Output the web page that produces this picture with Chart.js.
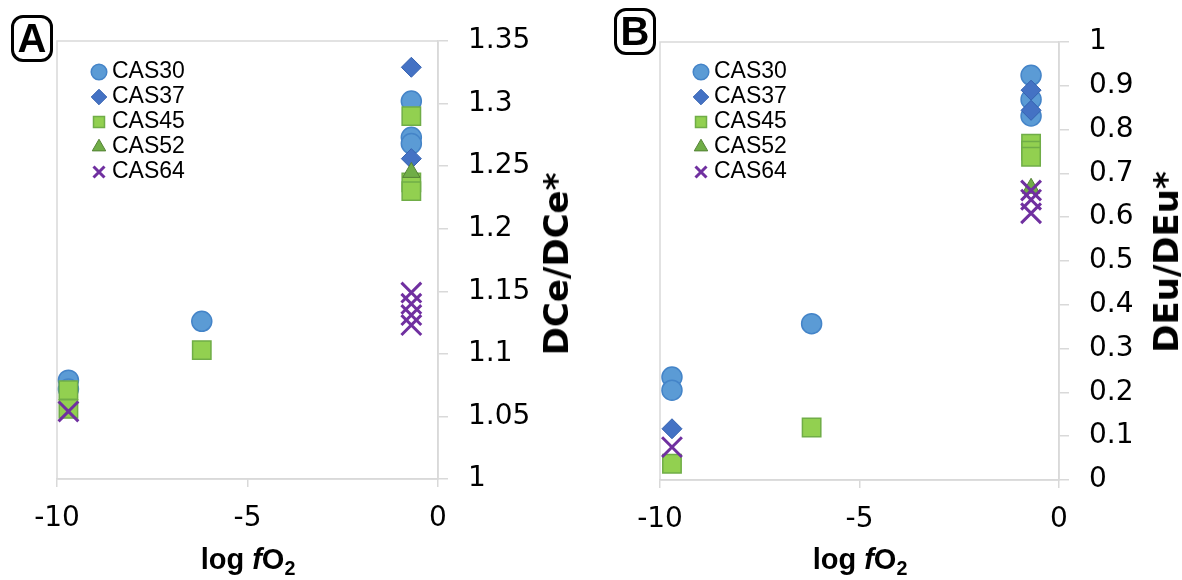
<!DOCTYPE html>
<html>
<head>
<meta charset="utf-8">
<script src="https://cdn.jsdelivr.net/npm/chart.js@4"></script>
<style>
  body { margin: 0; background: #fff; font-family: "Liberation Sans", Arial, sans-serif; }
  .wrap { position: absolute; top: 0; height: 580px; }
  .tag { position: absolute; box-sizing: border-box; border: 3px solid #000; border-radius: 12px;
         font-weight: bold; font-size: 40px; line-height: 41px; text-align: center; width: 42px; height: 47px; }
  .xt { position: absolute; top: 545px; transform: translateX(-50%); font-weight: bold; font-size: 29px;
        line-height: 28px; white-space: nowrap; }
  .xt sub { font-size: 0.68em; vertical-align: -0.3em; line-height: 0; }
  .yt { position: absolute; transform: translate(-50%, -50%) rotate(-90deg); font-family: "DejaVu Sans", sans-serif;
        font-weight: bold; font-size: 34px; line-height: 34px; white-space: nowrap; }
</style>
</head>
<body>
<div class="wrap" style="left:0;width:580px"><canvas id="chartA"></canvas></div>
<div class="wrap" style="left:590px;width:592px"><canvas id="chartB"></canvas></div>
<div class="tag" style="left:11px;top:15px">A</div>
<div class="tag" style="left:614px;top:8px">B</div>
<div class="xt" style="left:248px">log <i>f</i>O<sub>2</sub></div>
<div class="xt" style="left:860px">log <i>f</i>O<sub>2</sub></div>
<div class="yt" style="left:556px;top:264px">DCe/DCe*</div>
<div class="yt" style="left:1166px;top:262px">DEu/DEu*</div>
<script>
Chart.defaults.font.family = '"Liberation Sans", Arial, sans-serif';
Chart.defaults.color = '#000000';

const seriesNames = ['CAS30', 'CAS37', 'CAS45', 'CAS52', 'CAS64'];

// panel A : DCe/DCe* vs log fO2
const ceX30 = [-9.7, -9.7, -6.2, -0.7, -0.7, -0.7];
const ceY30 = [1.079, 1.072, 1.126, 1.302, 1.273, 1.268];
const ceX37 = [-0.7, -0.7];
const ceY37 = [1.329, 1.256];
const ceX45 = [-9.7, -9.7, -6.2, -0.7, -0.7, -0.7];
const ceY45 = [1.071, 1.056, 1.103, 1.290, 1.237, 1.230];
const ceX52 = [-0.7];
const ceY52 = [1.245];
const ceX64 = [-9.7, -0.7, -0.7, -0.7, -0.7];
const ceY64 = [1.054, 1.149, 1.140, 1.131, 1.123];

// panel B : DEu/DEu* vs log fO2
const euX30 = [-9.7, -9.7, -6.2, -0.7, -0.7, -0.7];
const euY30 = [0.235, 0.205, 0.357, 0.924, 0.869, 0.831];
const euX37 = [-9.7, -0.7, -0.7];
const euY37 = [0.117, 0.890, 0.844];
const euX45 = [-9.7, -6.2, -0.7, -0.7, -0.7];
const euY45 = [0.037, 0.120, 0.768, 0.752, 0.738];
const euX52 = [-0.7];
const euY52 = [0.666];
const euX64 = [-9.7, -0.7, -0.7, -0.7];
const euY64 = [0.075, 0.661, 0.640, 0.609];

const xTicks = [-10, -5, 0];

function pts(xs, ys) {
    return xs.map((x, i) => ({ x: x, y: ys[i] }));
}

function makeSets(x30, y30, x37, y37, x45, y45, x52, y52, x64, y64) {
    return [
        { label: seriesNames[0], data: pts(x30, y30), pointStyle: 'circle', pointRadius: 10,
          backgroundColor: '#5b9bd5', borderColor: '#4484c8', borderWidth: 1.5, order: 5 },
        { label: seriesNames[1], data: pts(x37, y37), pointStyle: 'rectRot', pointRadius: 10,
          backgroundColor: '#4472c4', borderColor: '#3461b0', borderWidth: 1, order: 4 },
        { label: seriesNames[2], data: pts(x45, y45), pointStyle: 'rect', pointRadius: 13,
          backgroundColor: '#92d050', borderColor: '#70ad47', borderWidth: 1.5, order: 3 },
        { label: seriesNames[3], data: pts(x52, y52), pointStyle: 'triangle', pointRadius: 10,
          backgroundColor: '#70ad47', borderColor: '#548235', borderWidth: 1, order: 2 },
        { label: seriesNames[4], data: pts(x64, y64), pointStyle: 'crossRot', pointRadius: 14,
          backgroundColor: '#7030a0', borderColor: '#7030a0', borderWidth: 3, order: 1 }
    ];
}

// frame round the plot area + put the legend inside it, top left
const framePlugin = {
    id: 'frame',
    afterLayout(chart, args, opts) {
        const lg = chart.legend;
        const a = chart.chartArea;
        lg.left = a.left + opts.dx;
        lg.top = a.top + opts.dy;
        lg.right = a.right;
        lg.bottom = a.bottom;
        if (typeof lg._draw === 'function') {
            lg.draw = function () { this._draw(); };   // no clipping of the markers
        }
    },
    beforeDatasetsDraw(chart) {
        const a = chart.chartArea;
        const ctx = chart.ctx;
        ctx.save();
        ctx.strokeStyle = '#d9d9d9';
        ctx.lineWidth = 1.5;
        ctx.strokeRect(a.left, a.top, a.right - a.left, a.bottom - a.top);
        ctx.restore();
    }
};

const tickFont = { family: '"DejaVu Sans", sans-serif', size: 28 };

function makeChart(id, datasets, yMin, yMax, yStep, pad, xHeight, dx, dy) {
    return new Chart(document.getElementById(id), {
        type: 'scatter',
        data: { datasets: datasets },
        plugins: [framePlugin],
        options: {
            responsive: true,
            maintainAspectRatio: false,
            animation: false,
            layout: { padding: pad },
            scales: {
                x: {
                    type: 'linear',
                    min: -10,
                    max: 0,
                    afterBuildTicks: (s) => { s.ticks = xTicks.map(v => ({ value: v })); },
                    afterFit: (s) => { s.height = xHeight; },
                    grid: { drawOnChartArea: false, color: '#d9d9d9', tickLength: 8, lineWidth: 1.5 },
                    border: { color: '#d9d9d9', width: 1.5 },
                    ticks: { font: tickFont, padding: 15, color: '#000000' }
                },
                y: {
                    position: 'right',
                    min: yMin,
                    max: yMax,
                    afterFit: (s) => { s.width = 100; },
                    grid: { drawOnChartArea: false, color: '#d9d9d9', tickLength: 10, lineWidth: 1.5 },
                    border: { color: '#d9d9d9', width: 1.5 },
                    ticks: {
                        stepSize: yStep,
                        font: tickFont,
                        padding: 20,
                        color: '#000000',
                        callback: (v) => String(Number(v.toFixed(2)))
                    }
                }
            },
            plugins: {
                frame: { dx: dx, dy: dy },
                tooltip: { enabled: false },
                legend: {
                    position: 'chartArea',
                    align: 'start',
                    labels: {
                        usePointStyle: true,
                        boxWidth: 3,
                        boxHeight: 11,
                        padding: 2,
                        color: '#000000',
                        font: { size: 23 },
                        sort: (a, b) => a.datasetIndex - b.datasetIndex
                    }
                }
            }
        }
    });
}

makeChart('chartA',
    makeSets(ceX30, ceY30, ceX37, ceY37, ceX45, ceY45, ceX52, ceY52, ceX64, ceY64),
    1, 1.35, 0.05, { left: 57, top: 41, right: 42, bottom: 0 }, 101, 38.5, 17.5);

makeChart('chartB',
    makeSets(euX30, euY30, euX37, euY37, euX45, euY45, euX52, euY52, euX64, euY64),
    0, 1, 0.1, { left: 70, top: 42, right: 23, bottom: 0 }, 100, 37.5, 16.5);
</script>
</body>
</html>
